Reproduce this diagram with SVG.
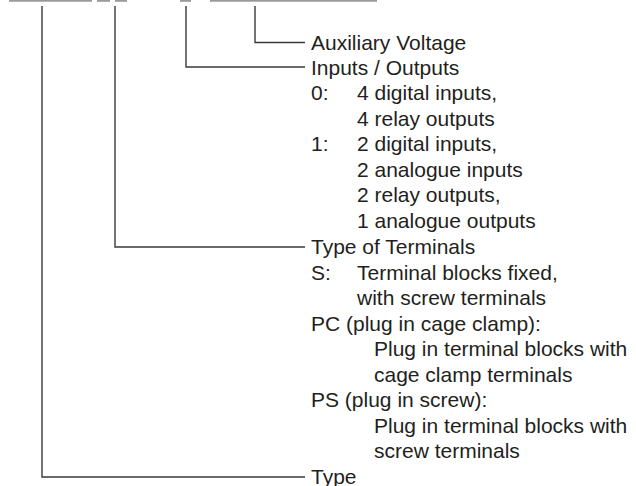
<svg xmlns="http://www.w3.org/2000/svg" width="636" height="486" viewBox="0 0 636 486">
<style>
.t{font-family:"Liberation Sans",Arial,Helvetica,sans-serif;font-size:21px;fill:#231f20}
.c{fill:none;stroke:#3a3a3a;stroke-width:1.4}
.b{fill:none;stroke:#9a9a9a;stroke-width:2}
</style>
<rect width="636" height="486" fill="#fff"/>
<g id="code">
<line class="b" x1="9" y1="0.8" x2="92" y2="0.8"/>
<line class="b" x1="97" y1="0.8" x2="110" y2="0.8"/>
<line class="b" x1="115" y1="0.8" x2="127" y2="0.8"/>
<line class="b" x1="180" y1="0.8" x2="191" y2="0.8"/>
<line class="b" x1="210" y1="0.8" x2="377" y2="0.8"/>
</g>
<g id="connectors">
<polyline class="c" points="255,6 255,42.5 305,42.5"/>
<polyline class="c" points="186,6 186,67 305,67"/>
<polyline class="c" points="115,6 115,247 305,247"/>
<polyline class="c" points="42,6 42,477 305,477"/>
</g>
<g id="aux">
<text class="t" x="311" y="49.5">Auxiliary Voltage</text>
</g>
<g id="io">
<text class="t" x="311" y="74.5">Inputs / Outputs</text>
<text class="t" x="311" y="100">0:</text>
<text class="t" x="357" y="100">4 digital inputs,</text>
<text class="t" x="357" y="125.5">4 relay outputs</text>
<text class="t" x="311" y="151">1:</text>
<text class="t" x="357" y="151">2 digital inputs,</text>
<text class="t" x="357" y="176.5">2 analogue inputs</text>
<text class="t" x="357" y="202">2 relay outputs,</text>
<text class="t" x="357" y="227.5">1 analogue outputs</text>
</g>
<g id="terminals">
<text class="t" x="311" y="254">Type of Terminals</text>
<text class="t" x="311" y="279.5">S:</text>
<text class="t" x="357" y="279.5">Terminal blocks fixed,</text>
<text class="t" x="357" y="305">with screw terminals</text>
<text class="t" x="311" y="330.5">PC (plug in cage clamp):</text>
<text class="t" x="374" y="356">Plug in terminal blocks with</text>
<text class="t" x="374" y="381.5">cage clamp terminals</text>
<text class="t" x="311" y="407">PS (plug in screw):</text>
<text class="t" x="374" y="432.5">Plug in terminal blocks with</text>
<text class="t" x="374" y="458">screw terminals</text>
</g>
<g id="type">
<text class="t" x="311" y="483.5">Type</text>
</g>
</svg>
